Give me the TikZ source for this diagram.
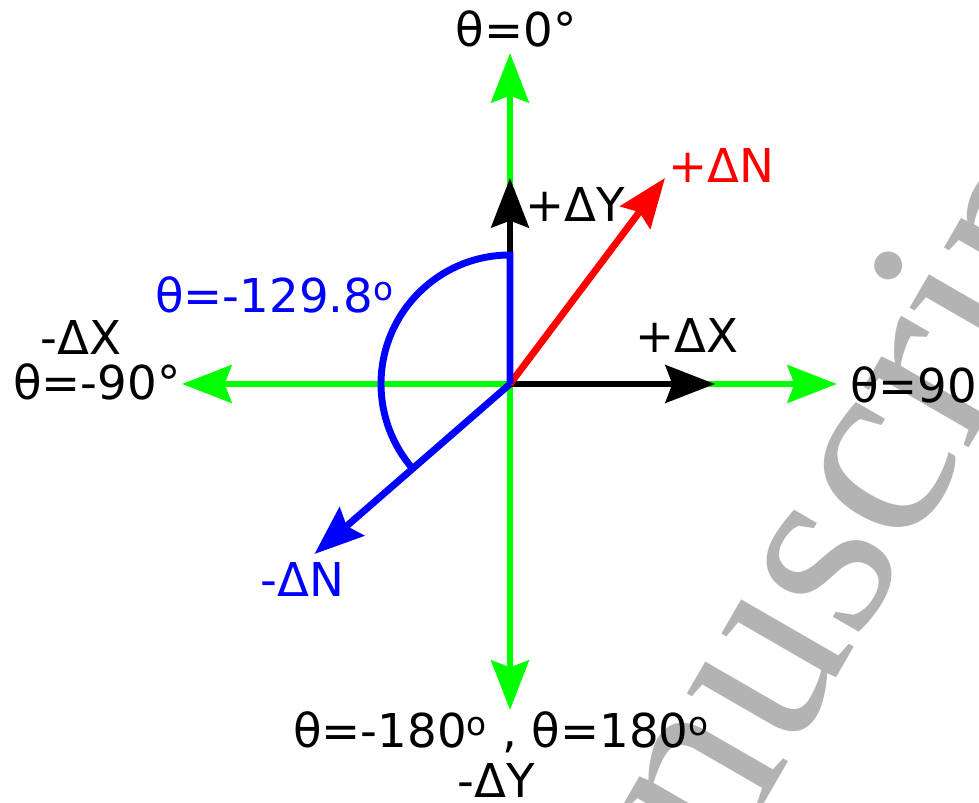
\documentclass[tikz,border=0pt]{standalone}
\usepackage{fontspec}
\setmainfont{DejaVu Sans}
\newfontfamily\wmfont{Liberation Serif}
\usetikzlibrary{arrows.meta}
\definecolor{axisgreen}{HTML}{00FF00}
\definecolor{plusN}{HTML}{FF0000}
\definecolor{minusN}{HTML}{0000FF}
\definecolor{wmark}{HTML}{B3B3B3}

\begin{document}
\begin{tikzpicture}[x=0.75pt, y=0.75pt,
  vec/.style={line width=5.2pt, -{Stealth[length=37pt, width=28pt, inset=5pt]}},
  lbl/.style={font=\fontsize{35}{40}\selectfont, inner sep=0pt, anchor=base west}]
  \clip (0,0) rectangle (979,803);
  % watermark behind the drawing
  \node[wmark, font=\wmfont\fontsize{198}{198}\selectfont, rotate=60, anchor=base west, inner sep=0pt] (wm) at (548,-374) {Manuscript};

  % origin and arrow ends
  \coordinate (O) at (510,419);
  \coordinate (up) at (510,750);
  \coordinate (down) at (510,93);
  \coordinate (left) at (182,419);
  \coordinate (right) at (837,419);
  \coordinate (dYtip) at (510,625);
  \coordinate (dXtip) at (715,419);
  \coordinate (pNtip) at (665,625);
  \coordinate (mNtip) at (314.5,249);

  % green axes
  \draw[vec, axisgreen] (O) -- (up);
  \draw[vec, axisgreen] (O) -- (down);
  \draw[vec, axisgreen] (O) -- (left);
  \draw[vec, axisgreen] (O) -- (right);

  % unit steps
  \draw[vec, black] (O) -- (dYtip);
  \draw[vec, black] (O) -- (dXtip);

  % +dN and -dN with the angle
  \draw[vec, plusN] (O) -- (pNtip);
  \draw[vec, minusN] (O) -- (mNtip);
  \draw[minusN, line width=5.2pt] (O) -- ++(0,129) arc[start angle=90, end angle=221, radius=129];

  % labels
  \node[lbl, anchor=base] (th0) at (516,756) {θ=0°};
  \node[lbl] (dYp) at (525,581) {+ΔY};
  \node[lbl, plusN] (dNp) at (668,620) {+ΔN};
  \node[lbl, minusN] (thN) at (155,490) {θ=-129.8\textsuperscript{o}};
  \node[lbl] (dXm) at (40,448) {-ΔX};
  \node[lbl] (thm90) at (13,403) {θ=-90°};
  \node[lbl] (dXp) at (635,450) {+ΔX};
  \node[lbl] (th90) at (850,400) {θ=90°};
  \node[lbl, minusN] (dNm) at (260,206) {-ΔN};
  \node[lbl] (th180) at (293,55) {θ=-180\textsuperscript{o} , θ=180\textsuperscript{o}};
  \node[lbl] (dYm) at (457,5) {-ΔY};
\end{tikzpicture}
\end{document}
